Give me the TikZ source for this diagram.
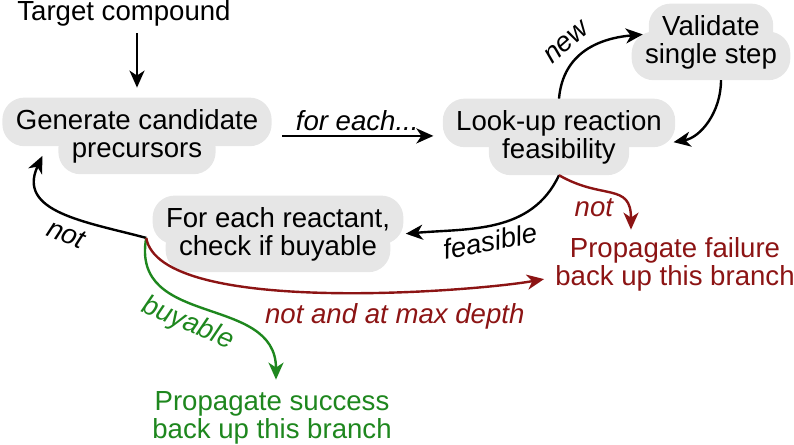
\documentclass[tikz,border=0pt]{standalone}
\usepackage{fontspec}
\setmainfont{Liberation Sans}
\usepackage{tikz}
\usetikzlibrary{positioning,fit,backgrounds,arrows.meta}

\definecolor{failred}{RGB}{140,20,20}
\definecolor{okgreen}{RGB}{30,135,30}
\definecolor{pillgray}{RGB}{230,230,230}

\begin{document}
\begin{tikzpicture}[
    x=0.5pt, y=0.5pt,
    >={Stealth[length=8.5pt,width=7.5pt,inset=2.5pt]},
    node distance=14pt, on grid,
    every node/.style={font=\fontsize{13.8}{16}\selectfont},
    pill/.style={inner xsep=6.5pt, inner ysep=5.5pt,
                 text height=10pt, text depth=2.9pt},
    note/.style={inner sep=2pt, text height=10pt, text depth=2.9pt},
    lbl/.style={font=\fontsize{13.8}{16}\selectfont\itshape, inner sep=2pt},
    link/.style={->, line width=1.2pt},
]
\useasboundingbox (0,0) rectangle (794,-445);

% --- start ---
\node[note, anchor=base] (target) at (124,-20) {Target compound};

% --- search loop boxes (one node per line) ---
\node[pill, anchor=base] (gen1) at (137,-129) {Generate candidate};
\node[pill, below=of gen1] (gen2) {precursors};

\node[pill, anchor=base] (look1) at (559,-130) {Look-up reaction};
\node[pill, below=of look1] (look2) {feasibility};

\node[pill, anchor=base] (val1) at (711,-35) {Validate};
\node[pill, below=of val1] (val2) {single step};

\node[pill, anchor=base] (buy1) at (278,-227) {For each reactant,};
\node[pill, below=of buy1] (buy2) {check if buyable};

% --- outcomes ---
\node[note, text=failred, anchor=base] (fail1) at (675,-257) {Propagate failure};
\node[note, text=failred, below=of fail1] (fail2) {back up this branch};

\node[note, text=okgreen, anchor=base] (succ1) at (272,-410) {Propagate success};
\node[note, text=okgreen, below=of succ1] (succ2) {back up this branch};

% whole boxes, for the connectors
\node[fit=(gen1)(gen2), inner sep=0pt] (gen) {};
\node[fit=(look1)(look2), inner sep=0pt] (look) {};
\node[fit=(buy1)(buy2), inner sep=0pt] (buy) {};

% grey blobs behind the text
\begin{scope}[on background layer]
  \foreach \n in {gen1,gen2,look1,look2,val1,val2,buy1,buy2}
    \fill[pillgray, rounded corners=11pt] (\n.south west) rectangle (\n.north east);
\end{scope}

% --- connectors ---
\draw[link, shorten <=1.5pt, shorten >=5pt] (gen1.north |- target.south) -- (gen1.north);
\draw[link, shorten <=5pt, shorten >=4.5pt] (gen.east) -- node[lbl, above] {for each...} (gen.east -| look.west);

\draw[link, shorten >=3pt] (look1.north) to[out=85, in=185, looseness=1.1]
    node[lbl, sloped, above=3pt, pos=0.4] {new} ([yshift=-3pt]val1.west);
\draw[link, shorten >=2pt] ([xshift=5pt]val2.south) to[out=-90, in=10]
    ([shift={(-3pt,-3pt)}]look.east);

\draw[link, shorten >=1pt] (look2.south) to[out=-115, in=5]
    node[lbl, sloped, below, pos=0.55] {feasible} (buy.east);
\draw[link, failred, shorten >=1.5pt] (look2.south) to[out=-30, in=90, looseness=1.4]
    node[lbl, below=2pt, pos=0.3] {not} ([xshift=-22pt]fail1.north);

\coordinate (split) at ([shift={(-3pt,-2pt)}]buy.west);
\draw[link] (split) to[out=165, in=-115, looseness=1.2]
    node[lbl, sloped, below=2pt, pos=0.42] {not} ([shift={(-8pt,-3pt)}]gen2.west);
\draw[link, okgreen, shorten >=3pt] (split) to[out=-100, in=90, looseness=1.2]
    node[lbl, sloped, below, pos=0.45] {buyable} ([xshift=2pt]succ1.north);
\draw[link, failred, shorten >=3.5pt] (split) to[out=-80, in=190, looseness=0.5]
    node[lbl, below=3pt, pos=0.63] {not and at max depth} (fail2.west);

\end{tikzpicture}
\end{document}
